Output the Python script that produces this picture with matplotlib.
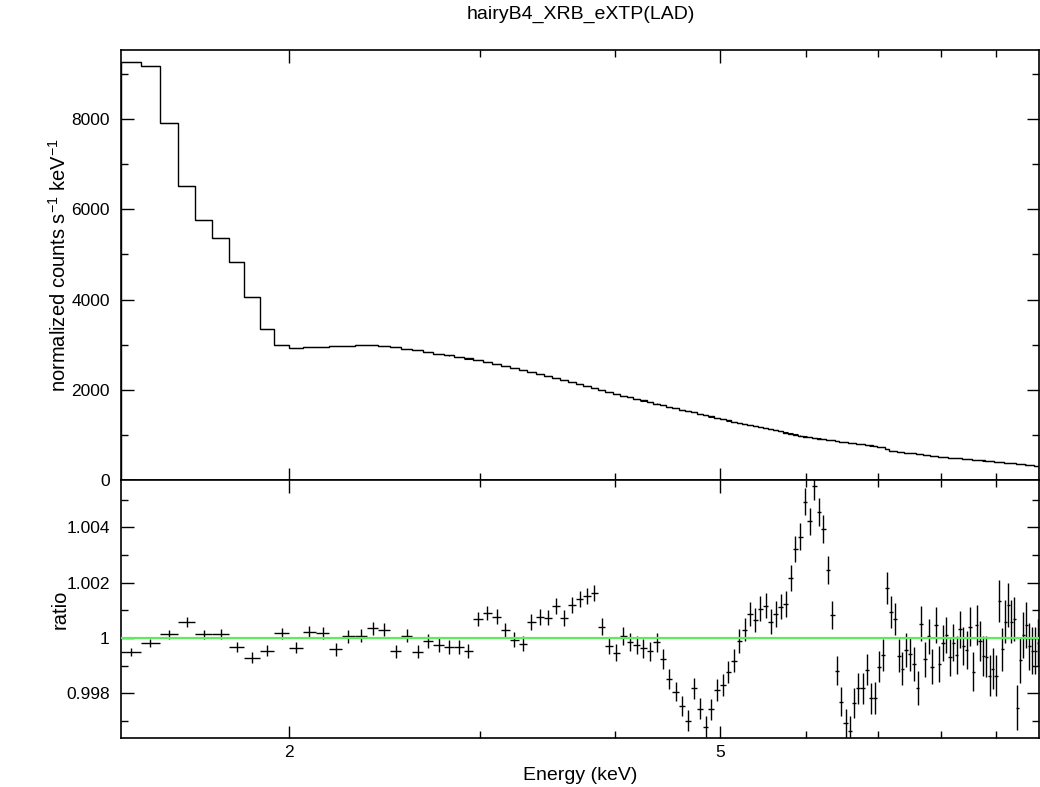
import numpy as np
import matplotlib
matplotlib.use('agg')
import matplotlib.pyplot as plt

plt.rcParams['font.family'] = ['Liberation Sans', 'DejaVu Sans']
plt.rcParams['mathtext.default'] = 'regular'

# channel grid: 0.06 keV bins from 1.40 to 9.86 keV (bin centres)
bin_width = 0.06
energy = np.round(np.arange(1.43, 9.84, bin_width), 2)

# model counts per bin (normalized counts s^-1 keV^-1)
counts = np.array([
    9270, 9180, 7920, 6520, 5760, 5370, 4840, 4060, 3355, 3000,
    2932, 2940, 2955, 2968, 2976, 2982, 2982, 2965, 2940, 2910,
    2880, 2840, 2795, 2760, 2727, 2693, 2659, 2615, 2570, 2525,
    2480, 2435, 2390, 2345, 2300, 2255, 2210, 2165, 2120, 2075,
    2030, 1990, 1945, 1900, 1865, 1830, 1795, 1762, 1728, 1695,
    1660, 1625, 1593, 1562, 1530, 1500, 1470, 1440, 1408, 1377,
    1345, 1320, 1295, 1270, 1245, 1220, 1195, 1170, 1145, 1122,
    1098, 1075, 1052, 1030, 1005, 982, 960, 946, 932, 918,
    904, 890, 876, 862, 849, 837, 825, 814, 802, 791,
    778, 765, 752, 738, 722, 680, 650, 640, 630, 620,
    609, 599, 589, 578, 568, 558, 548, 538, 527, 517,
    510, 504, 497, 491, 484, 478, 471, 465, 458, 452,
    445, 439, 432, 426, 419, 413, 406, 400, 394, 387,
    381, 374, 368, 361, 355, 349, 343, 336, 328, 318,
    302])

# data / model ratio
ratio = np.array([
    0.99948, 0.99981, 1.00013, 1.00057, 1.00013, 1.00013, 0.99966, 0.99929, 0.99954, 1.00017,
    0.99965, 1.00021, 1.00018, 0.99958, 1.00006, 1.00008, 1.00035, 1.00029, 0.99952, 1.00008,
    0.99950, 0.99989, 0.99974, 0.99966, 0.99966, 0.99952, 1.00068, 1.00090, 1.00077, 1.00028,
    0.99993, 0.99979, 1.00058, 1.00076, 1.00073, 1.00116, 1.00073, 1.00119, 1.00141, 1.00152,
    1.00162, 1.00041, 0.99972, 0.99947, 1.00007, 0.99984, 0.99975, 0.99963, 0.99952, 0.99984,
    0.99923, 0.99852, 0.99806, 0.99753, 0.99701, 0.99818, 0.99744, 0.99679, 0.99741, 0.99812,
    0.99830, 0.99877, 0.99918, 0.99989, 1.00030, 1.00086, 1.00065, 1.00106, 1.00117, 1.00059,
    1.00086, 1.00113, 1.00123, 1.00218, 1.00321, 1.00366, 1.00493, 1.00421, 1.00550, 1.00455,
    1.00394, 1.00246, 1.00083, 0.99882, 0.99769, 0.99691, 0.99664, 0.99764, 0.99817, 0.99817,
    0.99884, 0.99782, 0.99782, 0.99896, 0.99939, 1.00180, 1.00093, 1.00068, 0.99936, 0.99888,
    0.99957, 0.99942, 0.99906, 0.99820, 1.00051, 0.99923, 1.00005, 0.99896, 1.00045, 0.99906,
    0.99981, 1.00011, 0.99930, 0.99983, 0.99939, 1.00031, 0.99972, 0.99957, 1.00041, 0.99878,
    1.00047, 0.99990, 0.99935, 0.99932, 0.99863, 0.99888, 0.99863, 1.00135, 0.99959, 1.00059,
    1.00119, 1.00059, 1.00068, 0.99748, 0.99920, 1.00011, 1.00047, 0.99969, 0.99954, 0.99954,
    0.99983])

ratio_err = np.array([
    0.00015, 0.00015, 0.00016, 0.00017, 0.00017, 0.00018, 0.00018, 0.00019, 0.00019, 0.00020,
    0.00021, 0.00021, 0.00022, 0.00022, 0.00023, 0.00023, 0.00023, 0.00024, 0.00024, 0.00024,
    0.00024, 0.00025, 0.00025, 0.00025, 0.00025, 0.00026, 0.00026, 0.00026, 0.00027, 0.00027,
    0.00027, 0.00027, 0.00028, 0.00028, 0.00028, 0.00029, 0.00029, 0.00029, 0.00030, 0.00030,
    0.00030, 0.00031, 0.00031, 0.00032, 0.00032, 0.00033, 0.00033, 0.00034, 0.00034, 0.00035,
    0.00035, 0.00036, 0.00036, 0.00037, 0.00037, 0.00038, 0.00038, 0.00039, 0.00039, 0.00040,
    0.00040, 0.00041, 0.00042, 0.00042, 0.00043, 0.00043, 0.00044, 0.00044, 0.00045, 0.00045,
    0.00046, 0.00046, 0.00047, 0.00047, 0.00048, 0.00048, 0.00049, 0.00049, 0.00050, 0.00050,
    0.00051, 0.00051, 0.00052, 0.00052, 0.00053, 0.00053, 0.00054, 0.00054, 0.00055, 0.00055,
    0.00056, 0.00056, 0.00057, 0.00057, 0.00058, 0.00058, 0.00059, 0.00059, 0.00060, 0.00060,
    0.00061, 0.00061, 0.00062, 0.00062, 0.00063, 0.00063, 0.00064, 0.00064, 0.00065, 0.00065,
    0.00066, 0.00066, 0.00067, 0.00067, 0.00068, 0.00068, 0.00069, 0.00069, 0.00070, 0.00070,
    0.00071, 0.00072, 0.00072, 0.00073, 0.00074, 0.00074, 0.00075, 0.00076, 0.00077, 0.00077,
    0.00078, 0.00079, 0.00080, 0.00081, 0.00082, 0.00082, 0.00083, 0.00084, 0.00085, 0.00085,
    0.00086])

edges = np.append(energy - bin_width / 2, energy[-1] + bin_width / 2)

fig = plt.figure(figsize=(10.4, 7.87), dpi=100)
ax1 = fig.add_axes([0.1163, 0.3901, 0.8827, 0.5464])
ax2 = fig.add_axes([0.1163, 0.0623, 0.8827, 0.3278], sharex=ax1)

# top: model histogram + data crosses
ax1.stairs(counts, edges, color='black', lw=1.0)
ax1.errorbar(energy, counts * ratio, xerr=bin_width / 2, yerr=counts * ratio_err,
             fmt='none', ecolor='black', elinewidth=0.8)

# bottom: ratio
ax2.errorbar(energy, ratio, xerr=bin_width / 2, yerr=ratio_err,
             fmt='none', ecolor='black', elinewidth=1.0)
ax2.axhline(1.0, color='#5eec5e', lw=1.6, zorder=3)

ax1.set_xscale('log')
ax1.set_xlim(1.40, 9.85)
ax1.set_ylim(0, 9530)
ax2.set_ylim(0.99638, 1.00571)

ax2.set_xticks([2, 5])
ax2.set_xticklabels(['2', '5'])
ax2.set_xticks([3, 4, 6, 7, 8, 9], minor=True)
ax2.xaxis.set_minor_formatter(plt.NullFormatter())

ax1.set_yticks([0, 2000, 4000, 6000, 8000])
ax1.set_yticks([1000, 3000, 5000, 7000, 9000], minor=True)
ax2.set_yticks([0.998, 1.0, 1.002, 1.004])
ax2.set_yticklabels(['0.998', '1', '1.002', '1.004'])
ax2.set_yticks([0.997, 0.999, 1.001, 1.003, 1.005], minor=True)

for ax in (ax1, ax2):
    ax.tick_params(which='both', direction='in', top=True, right=True, width=1.0,
                   labelsize=12.5)
    ax.tick_params(which='major', length=9, pad=8)
    ax.tick_params(which='minor', length=5)
    for sp in ax.spines.values():
        sp.set_linewidth(1.2)
ax1.tick_params(labelbottom=False)
ax2.tick_params(axis='x', pad=5)

ax1.set_ylabel('normalized counts s$^{-1}$ keV$^{-1}$', fontsize=14.5)
ax1.yaxis.set_label_coords(-0.056, 0.5)
ax2.set_ylabel('ratio', fontsize=14.5)
ax2.yaxis.set_label_coords(-0.056, 0.5)
ax2.set_xlabel('Energy (keV)', fontsize=14)
ax2.xaxis.set_label_coords(0.5, -0.112)

fig.text(0.558, 1 - 14 / 787, 'hairyB4_XRB_eXTP(LAD)', ha='center', va='center',
         fontsize=14)

fig.savefig('out.png', dpi=100)
